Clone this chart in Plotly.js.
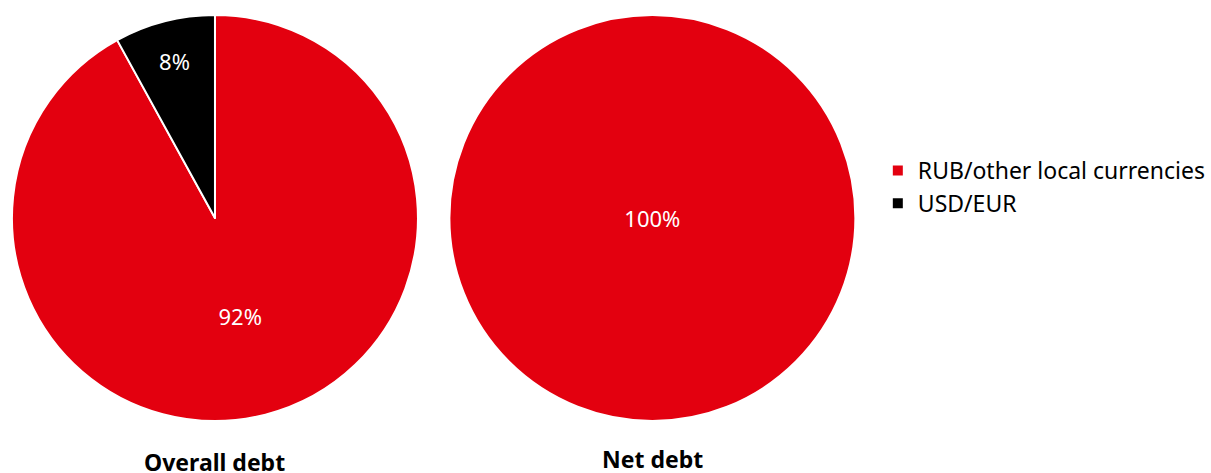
<!DOCTYPE html>
<html>
<head>
<meta charset="utf-8">
<script src="https://cdn.plot.ly/plotly-3.0.1.min.js"></script>
<style>html,body{margin:0;padding:0;background:#fff;}#chart{width:1211px;height:473px;}</style>
</head>
<body>
<div id="chart"></div>
<script>
const categories = ["RUB/other local currencies", "USD/EUR"];
const overallDebt = [92, 8];
const netDebt = [100, 0];
const chartTitles = ["Overall debt", "Net debt"];
const colors = ["#e3000f", "#000000"];

const W = 1211, H = 473;
function dom(cx, cy, r) {
  return {x: [(cx - r) / W, (cx + r) / W], y: [1 - (cy + r) / H, 1 - (cy - r) / H]};
}
const font = "Noto Sans, Open Sans, sans-serif";
function makeTrace(values, domain, showlegend) {
  const idx = values.map((v, i) => i).filter(i => values[i] > 0);
  return {
    type: "pie",
    labels: idx.map(i => categories[i]),
    values: idx.map(i => values[i]),
    text: idx.map(i => values[i] + "%"),
    sort: false,
    direction: "clockwise",
    rotation: 0,
    marker: {colors: idx.map(i => colors[i]), line: {color: "#ffffff", width: 2}},
    textinfo: "text",
    textposition: "inside",
    insidetextorientation: "horizontal",
    insidetextfont: {color: "#ffffff", size: 22, family: font},
    hoverinfo: "label+percent",
    domain: domain,
    showlegend: showlegend
  };
}
const trace1 = makeTrace(overallDebt, dom(215.5, 218, 203.5), true);
const trace2 = makeTrace(netDebt, dom(654, 218, 203.5), false);
const layout = {
  width: W, height: H,
  margin: {l: 0, r: 0, t: 0, b: 0},
  paper_bgcolor: "#ffffff",
  font: {family: font, color: "#000000", size: 20},
  showlegend: true,
  legend: {x: 880 / W, xanchor: "left", y: 1 - 187 / H, yanchor: "middle",
           font: {size: 23, family: font, color: "#000000"}, bgcolor: "rgba(0,0,0,0)"},
  annotations: [
    {text: "<b>" + chartTitles[0] + "</b>", x: 215 / W, y: 1 - 462 / H, xref: "paper", yref: "paper",
     showarrow: false, xanchor: "center", yanchor: "middle", font: {size: 23, family: font, color: "#000000"}},
    {text: "<b>" + chartTitles[1] + "</b>", x: 654 / W, y: 1 - 459 / H, xref: "paper", yref: "paper",
     showarrow: false, xanchor: "center", yanchor: "middle", font: {size: 23, family: font, color: "#000000"}}
  ]
};
Plotly.newPlot("chart", [trace1, trace2], layout, {displayModeBar: false, staticPlot: true});
</script>
</body>
</html>
